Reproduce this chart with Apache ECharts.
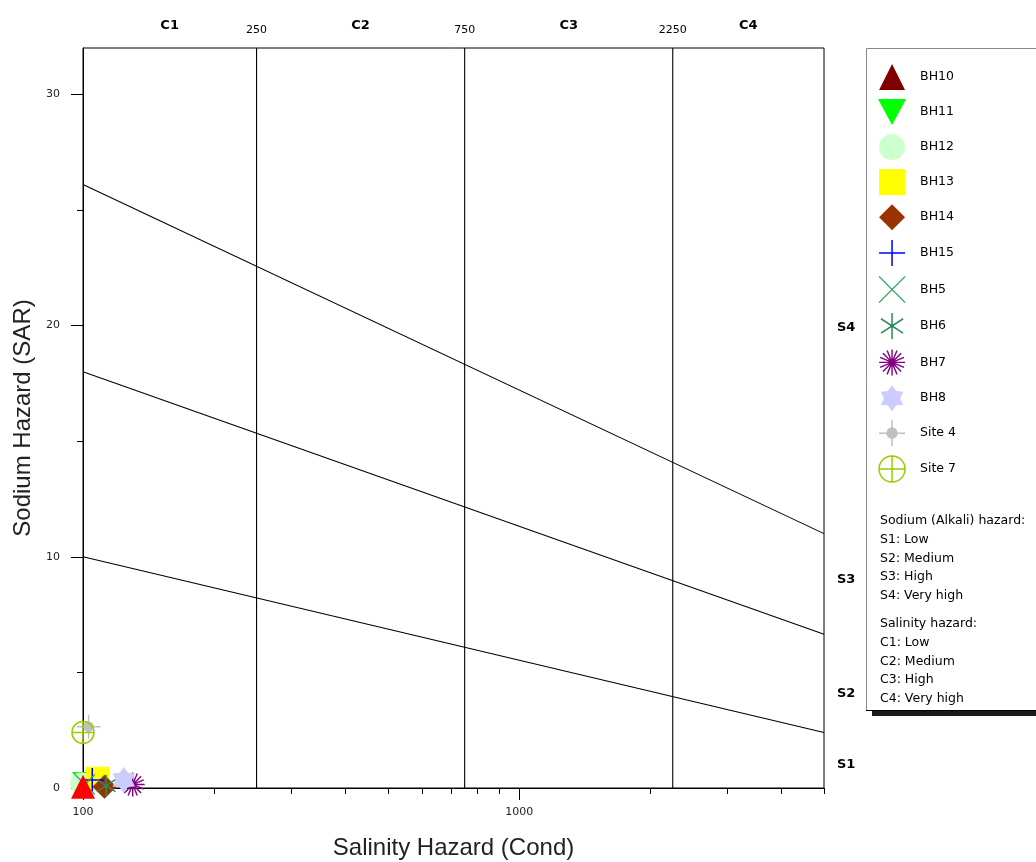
<!DOCTYPE html>
<html>
<head>
<meta charset="utf-8">
<script src="https://cdn.jsdelivr.net/npm/echarts@6/dist/echarts.min.js"></script>
<style>
  html, body { margin: 0; padding: 0; background: #fff; }
  #chart { width: 1036px; height: 862px; }
</style>
</head>
<body>
<div id="chart"></div>
<script>
// Sample sites: conductivity (Cond) and sodium adsorption ratio (SAR)
const siteNames = ['BH10', 'BH11', 'BH12', 'BH13', 'BH14', 'BH15', 'BH5', 'BH6', 'BH7', 'BH8', 'Site 4', 'Site 7'];
const siteCond  = [100, 100, 99, 108, 112, 105, 101, 113, 130, 124, 103, 100];
const siteSar   = [0.05, 0.25, 0.2, 0.4, 0.05, 0.35, 0.15, 0.1, 0.15, 0.35, 2.65, 2.4];

// Sodium hazard class boundaries (SAR at the two ends of the conductivity range)
const boundaryCond = [100, 5000];
const boundaryS1S2 = [10.0, 2.4];
const boundaryS2S3 = [18.0, 6.65];
const boundaryS3S4 = [26.1, 11.0];

// Salinity hazard class boundaries
const salinityBreaks = [250, 750, 2250];
const salinityBreakLabels = ['250', '750', '2250'];
const sarTop = 32;

// Class labels and where they sit
const salinityClassPos = [158, 433, 1299, 3354];
const salinityClassLabels = ['C1', 'C2', 'C3', 'C4'];
const sodiumClassPos = [1.0, 4.1, 9.0, 19.9];
const sodiumClassLabels = ['S1', 'S2', 'S3', 'S4'];

// Axis ticks
const xMajorTicks = [100, 1000];
const xMinorTicks = [200, 300, 400, 500, 600, 700, 800, 900, 2000, 3000, 4000, 5000];
const yMajorTicks = [0, 10, 20, 30];
const yMinorTicks = [5, 15, 25];

// Key notes
const sodiumNotes = ['Sodium (Alkali) hazard:', 'S1: Low', 'S2: Medium', 'S3: High', 'S4: Very high'];
const salinityNotes = ['Salinity hazard:', 'C1: Low', 'C2: Medium', 'C3: High', 'C4: Very high'];

const TITLE_FONT = '"Liberation Sans", Arial, sans-serif';
const SMALL_FONT = '"DejaVu Sans", Verdana, sans-serif';

// Marker shapes (all as paths so the key keeps their proportions)
const SHAPES = {
  up:      'path://M1,0 L2,2 L0,2 Z',
  down:    'path://M0,0 L2,0 L1,1.85 Z',
  circle:  'path://M0,1 A1,1 0 1,1 2,1 A1,1 0 1,1 0,1 Z',
  square:  'path://M0,0 L2,0 L2,2 L0,2 Z',
  diamond: 'path://M1,0 L2,1 L1,2 L0,1 Z',
  plus:    'path://M1,0 L1,2 M0,1 L2,1',
  cross:   'path://M0,0 L2,2 M2,0 L0,2',
  star6:   'path://M1,0 L1,2 M0.15,0.45 L1.85,1.55 M1.85,0.45 L0.15,1.55 M0.9,1 A0.1,0.1 0 1,1 1.1,1 A0.1,0.1 0 1,1 0.9,1',
  burst:   'path://M1,0 L1,2 M0,1 L2,1 M0.3,0.3 L1.7,1.7 M1.7,0.3 L0.3,1.7 M0.62,0.08 L1.38,1.92 M1.38,0.08 L0.62,1.92 M0.08,0.62 L1.92,1.38 M1.92,0.62 L0.08,1.38',
  hexstar: 'path://M1,0 L1.33,0.45 L1.866,0.5 L1.62,1 L1.866,1.5 L1.33,1.55 L1,2 L0.67,1.55 L0.134,1.5 L0.38,1 L0.134,0.5 L0.67,0.45 Z',
  spark:   'path://M0.94,0 L1.06,0 L1.06,0.55 L1.32,0.68 L1.45,0.94 L2,0.94 L2,1.06 L1.45,1.06 L1.32,1.32 L1.06,1.45 L1.06,2 L0.94,2 L0.94,1.45 L0.68,1.32 L0.55,1.06 L0,1.06 L0,0.94 L0.55,0.94 L0.68,0.68 L0.94,0.55 Z',
  target:  'path://M0,1 A1,1 0 1,1 2,1 A1,1 0 1,1 0,1 Z M1,0 L1,2 M0,1 L2,1'
};

// Marker styles per site
const markerStyles = {
  'BH10':  { symbol: SHAPES.up,      size: 24, color: '#ff0000', legendColor: '#800000' },
  'BH11':  { symbol: SHAPES.down,    size: 22, color: '#00ff00' },
  'BH12':  { symbol: SHAPES.circle,  size: 22, color: '#ccffcc' },
  'BH13':  { symbol: SHAPES.square,  size: 24, color: '#ffff00' },
  'BH14':  { symbol: SHAPES.diamond, size: 24, color: '#993300' },
  'BH15':  { symbol: SHAPES.plus,    size: 24, stroke: '#0000ff', width: 1.5 },
  'BH5':   { symbol: SHAPES.cross,   size: 20, stroke: '#3caa6e', width: 1.3 },
  'BH6':   { symbol: SHAPES.star6,   size: 22, stroke: '#2e8b57', width: 1.5 },
  'BH7':   { symbol: SHAPES.burst,   size: 24, stroke: '#800080', width: 1.4 },
  'BH8':   { symbol: SHAPES.hexstar, size: 26, color: '#ccccff' },
  'Site 4':{ symbol: SHAPES.spark,   size: 24, color: '#c0c0c0' },
  'Site 7':{ symbol: SHAPES.target,  size: 22, stroke: '#99cc00', width: 1.5 }
};

function styleFor(name) {
  const m = markerStyles[name];
  if (m.stroke) {
    return { color: 'rgba(0,0,0,0)', borderColor: m.stroke, borderWidth: m.width, opacity: 1 };
  }
  return { color: m.color, borderWidth: 0, opacity: 1 };
}

const siteSeries = siteNames.map((name, i) => ({
  type: 'scatter',
  name: name,
  xAxisIndex: 0,
  yAxisIndex: 0,
  clip: false,
  symbol: markerStyles[name].symbol,
  symbolSize: markerStyles[name].size,
  symbolKeepAspect: true,
  itemStyle: styleFor(name),
  z: name === 'BH10' ? 4 : 3,
  emphasis: { disabled: true },
  data: [[siteCond[i], siteSar[i]]]
}));

const legendData = siteNames.map(name => {
  const m = markerStyles[name];
  const st = styleFor(name);
  if (m.legendColor) st.color = m.legendColor;
  return { name: name, itemStyle: st };
});

function boundaryLine(values) {
  return {
    type: 'line', xAxisIndex: 0, yAxisIndex: 0, silent: true, symbol: 'none', z: 2,
    lineStyle: { color: '#000', width: 1.1 },
    data: boundaryCond.map((c, i) => [c, values[i]])
  };
}

const breakSeries = salinityBreaks.map(c => ({
  type: 'line', xAxisIndex: 0, yAxisIndex: 0, silent: true, symbol: 'none', z: 2,
  lineStyle: { color: '#000', width: 1.1 },
  data: [[c, 0], [c, sarTop]]
}));

function nearestLabel(v, positions, labels, useLog) {
  let best = 0, bestD = Infinity;
  positions.forEach((p, i) => {
    const d = useLog ? Math.abs(Math.log(v) - Math.log(p)) : Math.abs(v - p);
    if (d < bestD) { bestD = d; best = i; }
  });
  return labels[best];
}

const hiddenLine = { show: false };
const logBase = { type: 'log', logBase: 10, min: 100, max: 5000, gridIndex: 0, splitLine: { show: false } };
const sarBase = { type: 'value', min: 0, max: sarTop, gridIndex: 0, splitLine: { show: false } };

const noteLines = [];
sodiumNotes.forEach((t, i) => noteLines.push({ text: t, y: 521 + i * 18.7 }));
salinityNotes.forEach((t, i) => noteLines.push({ text: t, y: 624 + i * 18.7 }));

const option = {
  backgroundColor: '#fff',
  animation: false,
  grid: {
    left: 83, top: 48, right: 212, bottom: 74,
    outerBoundsMode: 'none',
    show: true, borderColor: '#000', borderWidth: 1, backgroundColor: 'transparent'
  },
  legend: {
    orient: 'vertical',
    left: 873, top: 59,
    itemWidth: 46, itemHeight: 26, itemGap: 9.05,
    symbolKeepAspect: true,
    selectedMode: false,
    textStyle: { fontFamily: SMALL_FONT, fontSize: 12.5, color: '#000' },
    data: legendData
  },
  xAxis: [
    Object.assign({}, logBase, {
      position: 'bottom',
      axisLine: { show: true, lineStyle: { color: '#000', width: 1 } },
      axisTick: { show: true, customValues: xMajorTicks, length: 12, lineStyle: { color: '#000' } },
      axisLabel: { customValues: xMajorTicks, margin: 19, fontFamily: SMALL_FONT, fontSize: 11, color: '#222',
                   formatter: v => String(Math.round(v)) },
      name: 'Salinity Hazard (Cond)', nameLocation: 'middle', nameGap: 48,
      nameTextStyle: { fontFamily: TITLE_FONT, fontSize: 24, color: '#222' }
    }),
    Object.assign({}, logBase, {
      position: 'bottom',
      axisLine: hiddenLine,
      axisTick: { show: true, customValues: xMinorTicks, length: 6, lineStyle: { color: '#000' } },
      axisLabel: { show: false }
    }),
    Object.assign({}, logBase, {
      position: 'top',
      axisLine: hiddenLine, axisTick: { show: false },
      axisLabel: { customValues: salinityBreaks, margin: 12, fontFamily: SMALL_FONT, fontSize: 11, color: '#000',
                   formatter: v => nearestLabel(v, salinityBreaks, salinityBreakLabels, true) }
    }),
    Object.assign({}, logBase, {
      position: 'top',
      axisLine: hiddenLine, axisTick: { show: false },
      axisLabel: { customValues: salinityClassPos, margin: 16, fontFamily: SMALL_FONT, fontSize: 13, fontWeight: 'bold', color: '#000',
                   formatter: v => nearestLabel(v, salinityClassPos, salinityClassLabels, true) }
    })
  ],
  yAxis: [
    Object.assign({}, sarBase, {
      position: 'left',
      axisLine: { show: true, lineStyle: { color: '#000', width: 1 } },
      axisTick: { show: true, customValues: yMajorTicks, length: 12, lineStyle: { color: '#000' } },
      axisLabel: { customValues: yMajorTicks, margin: 23, fontFamily: SMALL_FONT, fontSize: 11, color: '#222' },
      name: 'Sodium Hazard (SAR)', nameLocation: 'middle', nameGap: 42, nameRotate: 90,
      nameTextStyle: { fontFamily: TITLE_FONT, fontSize: 24, color: '#222' }
    }),
    Object.assign({}, sarBase, {
      position: 'left',
      axisLine: hiddenLine,
      axisTick: { show: true, customValues: yMinorTicks, length: 6, lineStyle: { color: '#000' } },
      axisLabel: { show: false }
    }),
    Object.assign({}, sarBase, {
      position: 'right',
      axisLine: hiddenLine, axisTick: { show: false },
      axisLabel: { customValues: sodiumClassPos, margin: 13, fontFamily: SMALL_FONT, fontSize: 13, fontWeight: 'bold', color: '#000',
                   formatter: v => nearestLabel(v, sodiumClassPos, sodiumClassLabels, false) }
    })
  ],
  graphic: [
    { type: 'rect', z: -2, shape: { x: 872, y: 54, width: 200, height: 662 }, style: { fill: '#1a1a1a' } },
    { type: 'rect', z: -1, shape: { x: 866.5, y: 48.5, width: 200, height: 662 }, style: { fill: '#fff', stroke: '#888', lineWidth: 1 } },
    { type: 'line', z: -1, shape: { x1: 866, y1: 710.5, x2: 1036, y2: 710.5 }, style: { stroke: '#000', lineWidth: 1 } }
  ].concat(noteLines.map(n => ({
    type: 'text', z: 1, x: 880, y: n.y,
    style: { text: n.text, fontFamily: SMALL_FONT, fontSize: 12.5, fill: '#000', verticalAlign: 'middle' }
  }))),
  series: [
    boundaryLine(boundaryS1S2),
    boundaryLine(boundaryS2S3),
    boundaryLine(boundaryS3S4)
  ].concat(breakSeries).concat(siteSeries)
};

const chart = echarts.init(document.getElementById('chart'), null, { renderer: 'canvas' });
chart.setOption(option);
</script>
</body>
</html>
